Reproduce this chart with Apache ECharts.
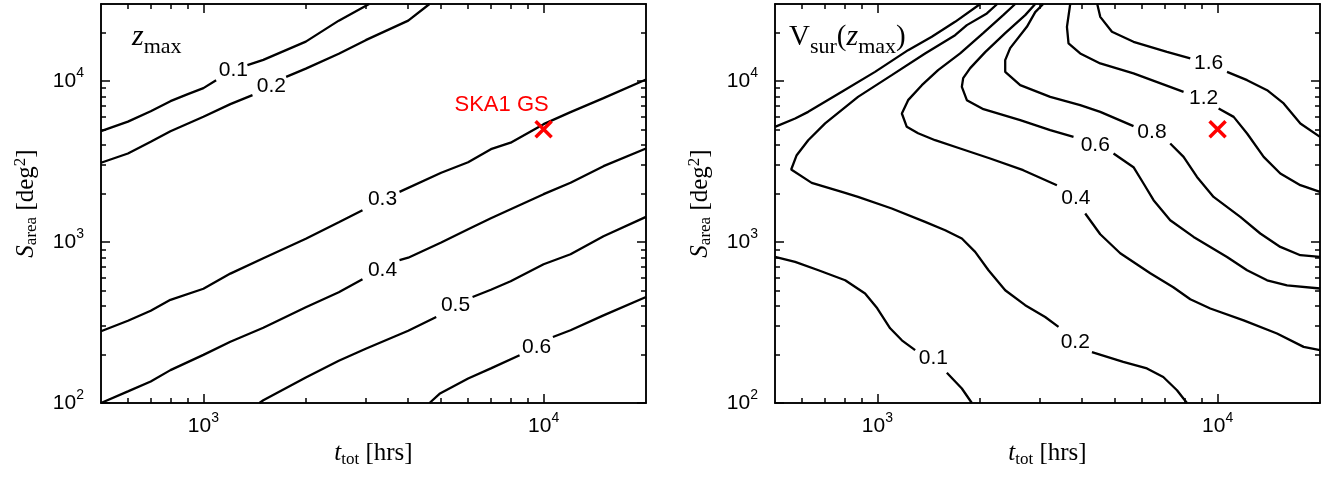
<!DOCTYPE html>
<html><head><meta charset="utf-8">
<script src="https://cdn.jsdelivr.net/npm/echarts@6/dist/echarts.min.js"></script>
<style>html,body{margin:0;padding:0;background:#fff}#c{width:1331px;height:478px}</style>
</head><body><div id="c"></div>
<script>
// ---------- tick values ----------
const xTicksMajor = [1000, 10000];
const xTicksMinor = [600, 700, 800, 900, 2000, 3000, 4000, 5000, 6000, 7000, 8000, 9000];
const yTicksMajor = [100, 1000, 10000];
const yTicksMinor = [200, 300, 400, 500, 600, 700, 800, 900, 2000, 3000, 4000, 5000, 6000, 7000, 8000, 9000, 20000];
const tRange = [500, 20000];
const sRange = [100, 30000];

// ---------- left panel: z_max contours [t_tot, S_area], split at label gaps ----------
const zmax_01 = [
  [[500,4870],[600,5580],[700,6480],[800,7480],[900,8270],[1000,9010],[1090,10100]],
  [[1347,12520],[1500,13500],[2000,17520],[2500,23650],[3070,30000]]
];
const zmax_02 = [
  [[500,3100],[600,3540],[700,4190],[800,4870],[1000,5990],[1200,7170],[1394,8150]],
  [[1751,10590],[2000,11910],[2500,14720],[3000,17890],[4000,23650],[4620,30000]]
];
const zmax_03 = [
  [[500,279],[600,324],[700,374],[800,437],[1000,512],[1200,636],[1500,792],[2000,1047],[2500,1326],[2935,1574]],
  [[3771,2045],[5000,2687],[6000,3126],[7000,3765],[8000,4133],[10000,5384],[12000,6391],[15000,7808],[20000,10200]]
];
const zmax_04 = [
  [[500,100],[600,118],[700,136],[800,160],[1000,199],[1200,240],[1500,293],[2000,393],[2500,487],[2935,587]],
  [[3771,770],[4000,798],[5000,992],[6000,1199],[7000,1404],[8000,1596],[10000,1979],[12000,2332],[15000,2953],[20000,3803]]
];
const zmax_05 = [
  [[1461,100],[1500,104],[2000,144],[2500,183],[3000,217],[4000,281],[4835,342]],
  [[6183,455],[7000,505],[8000,570],[10000,727],[12000,839],[15000,1085],[20000,1430]]
];
const zmax_06 = [
  [[4620,100],[4944,114],[6000,142],[7000,164],[8499,198]],
  [[10650,257],[12000,283],[15000,350],[20000,455]]
];
const zmaxLabels = [[1225,11660,'0.1'],[1585,9270,'0.2'],[3361,1841,'0.3'],[3361,667,'0.4'],[5510,405,'0.5'],[9537,222,'0.6']];

// ---------- right panel: V_sur(z_max) contours ----------
const vsur_01 = [
  [[500,5180],[573,5840],[626,6420],[786,8550],[984,11370],[1231,15510],[1445,18760],[1692,23250],[2005,30000]],
  [[500,807],[573,751],[671,667],[804,578],[920,478],[999,387],[1090,291],[1180,245],[1291,213]],
  [[1600,154],[1771,123],[1895,100]]
];
const vsur_02 = [
  [[2250,30000],[2098,26220],[1832,22180],[1692,19220],[1381,14800],[1102,10850],[877,7950],[702,5440],[626,4280],[579,3455],[558,2817],[641,2326],[786,2045],[877,1903],[1102,1613],[1381,1331],[1582,1182],[1771,1050],[1938,867],[2121,667],[2375,501],[2719,405],[3113,342],[3407,297]],
  [[4272,207],[5280,180],[6199,164],[6923,145],[7597,120],[8128,100]]
];
const vsur_04 = [
  [[2541,30000],[2343,25590],[2046,19790],[1751,14800],[1508,11660],[1351,9400],[1231,7590],[1180,6270],[1220,5180],[1317,4730],[1478,4280],[1751,3803],[2145,3296],[2683,2789],[3370,2250]],
  [[4082,1501],[4519,1116],[5174,851],[6340,639],[7409,523],[8312,441],[9517,386],[11930,326],[14950,270],[17900,223],[20000,213]]
];
const vsur_06 = [
  [[2910,30000],[2719,25590],[2375,19790],[2074,15080],[1874,11990],[1787,10390],[1771,9180],[1832,7590],[2050,6670],[2629,5700],[3221,4940],[3771,4490]],
  [[4944,3540],[5660,2911],[6058,2305],[6483,1816],[7257,1364],[8500,1074],[10660,807],[12210,667],[13980,578],[16000,538],[20000,514]]
];
const vsur_08 = [
  [[3072,30000],[2910,26710],[2750,21650],[2456,15960],[2375,13450],[2375,11370],[2629,9400],[3221,7950],[3946,7070],[4519,6420],[5660,5231]],
  [[7257,4086],[7943,3373],[8698,2533],[9732,1903],[11660,1430],[13350,1128],[15290,931],[17510,827],[20000,807]]
];
const vsur_12 = [
  [[3688,30000],[3607,21650],[3646,17080],[3946,14800],[4519,12820],[5660,11120],[7943,8550]],
  [[10070,6741],[11150,5975],[12210,4713],[13660,3373],[15290,2660],[17510,2250],[20000,2045]]
];
const vsur_16 = [
  [[4428,30000],[4519,24970],[4891,20160],[5660,17470],[7097,15140],[8312,13770]],
  [[10660,11370],[12210,10100],[13980,8754],[15640,7238],[17510,5440],[20000,4489]]
];
const vsurLabels = [[1461,189,'0.1'],[3815,239,'0.2'],[3833,1855,'0.4'],[4368,3986,'0.6'],[6413,4821,'0.8'],[9096,7776,'1.2'],[9409,12820,'1.6']];

// ---------- marker ----------
const ska1 = [10000, 5000];
const ska1Name = 'SKA1 GS';

// ---------- texts ----------
const SANS = 'Liberation Sans, Arial, sans-serif';
const SERIF = 'Liberation Serif, Times New Roman, serif';

const powRich = {
  b: {fontSize: 21, fontFamily: SANS, color: '#000', lineHeight: 30},
  s: {fontSize: 14, fontFamily: SANS, color: '#000', lineHeight: 14, verticalAlign: 'top'}
};
function powFmt(v) { const e = Math.round(Math.log10(v)); return '{b|10}{s|' + e + '}'; }

const nameRich = {
  i: {fontSize: 25, fontFamily: SERIF, fontStyle: 'italic', fontWeight: 'normal', color: '#000', lineHeight: 28},
  n: {fontSize: 25, fontFamily: SERIF, fontWeight: 'normal', color: '#000', lineHeight: 28},
  sub: {fontSize: 17, fontFamily: SERIF, fontWeight: 'normal', color: '#000', lineHeight: 17, verticalAlign: 'bottom'},
  sup: {fontSize: 17, fontFamily: SERIF, fontWeight: 'normal', color: '#000', lineHeight: 17, verticalAlign: 'top'}
};
const titleRich = {
  i: {fontSize: 30, fontFamily: SERIF, fontStyle: 'italic', fontWeight: 'normal', color: '#000', lineHeight: 34},
  n: {fontSize: 29, fontFamily: SERIF, fontWeight: 'normal', color: '#000', lineHeight: 34},
  sub: {fontSize: 22, fontFamily: SERIF, fontWeight: 'normal', color: '#000', lineHeight: 22, verticalAlign: 'bottom', padding: [0,0,-4,0]}
};

const grids = [
  {left: 101, top: 4, width: 545, height: 399},
  {left: 775, top: 4, width: 545, height: 399}
];

const BLK = {color: '#000', width: 1.5};
function xAx(g, pos, vals, len, labels, named) {
  return {
    gridIndex: g, type: 'log', logBase: 10, min: tRange[0], max: tRange[1], position: pos,
    axisLine: {show: true, onZero: false, lineStyle: BLK},
    axisTick: {show: true, inside: true, length: len, customValues: vals, lineStyle: BLK},
    axisLabel: labels ? {show: true, customValues: vals, formatter: powFmt, rich: powRich, margin: 8} : {show: false},
    splitLine: {show: false}, minorTick: {show: false},
    name: named ? '{i|t}{sub|tot}{n| [hrs]}' : '',
    nameLocation: 'middle', nameGap: 34,
    nameTextStyle: {fontWeight: 'normal', rich: nameRich}
  };
}
function yAx(g, pos, vals, len, labels, named) {
  return {
    gridIndex: g, type: 'log', logBase: 10, min: sRange[0], max: sRange[1], position: pos,
    axisLine: {show: true, onZero: false, lineStyle: BLK},
    axisTick: {show: true, inside: true, length: len, customValues: vals, lineStyle: BLK},
    axisLabel: labels ? {show: true, customValues: vals, formatter: powFmt, rich: powRich, margin: 17} : {show: false},
    splitLine: {show: false}, minorTick: {show: false},
    name: named ? '{i|S}{sub|area}{n| [deg}{sup|2}{n|]}' : '',
    nameLocation: 'middle', nameGap: 61, nameRotate: 90,
    nameTextStyle: {fontWeight: 'normal', rich: nameRich}
  };
}
const xAxes = [], yAxes = [];
[0, 1].forEach(g => {
  xAxes.push(xAx(g, 'bottom', xTicksMajor, 9, true, true));
  xAxes.push(xAx(g, 'top', xTicksMajor, 9, false, false));
  xAxes.push(xAx(g, 'bottom', xTicksMinor, 5, false, false));
  xAxes.push(xAx(g, 'top', xTicksMinor, 5, false, false));
  yAxes.push(yAx(g, 'left', yTicksMajor, 9, true, true));
  yAxes.push(yAx(g, 'right', yTicksMajor, 9, false, false));
  yAxes.push(yAx(g, 'left', yTicksMinor, 5, false, false));
  yAxes.push(yAx(g, 'right', yTicksMinor, 5, false, false));
});

const series = [];
function addContour(segs, axisIdx) {
  segs.forEach(seg => series.push({
    type: 'line', xAxisIndex: axisIdx, yAxisIndex: axisIdx, data: seg,
    showSymbol: false, symbol: 'none', silent: true, clip: true,
    lineStyle: {color: '#000', width: 2.3, opacity: 1}, animation: false
  }));
}
[zmax_01, zmax_02, zmax_03, zmax_04, zmax_05, zmax_06].forEach(s => addContour(s, 0));
[vsur_01, vsur_02, vsur_04, vsur_06, vsur_08, vsur_12, vsur_16].forEach(s => addContour(s, 4));

function addLabels(list, axisIdx) {
  series.push({
    type: 'scatter', xAxisIndex: axisIdx, yAxisIndex: axisIdx, symbolSize: 0, silent: true, animation: false,
    itemStyle: {color: '#000', opacity: 1},
    data: list.map(d => ({value: [d[0], d[1]], name: d[2]})),
    label: {show: true, position: 'inside', formatter: p => p.name, fontSize: 21, fontFamily: SANS,
      color: '#000', opacity: 1, textBorderWidth: 0, textBorderColor: 'transparent'}
  });
}
addLabels(zmaxLabels, 0);
addLabels(vsurLabels, 4);

const xPath = 'path://M0,0L10,10M10,0L0,10';
[0, 4].forEach((ai, k) => series.push({
  type: 'scatter', xAxisIndex: ai, yAxisIndex: ai, silent: true, animation: false, z: 5,
  symbol: xPath, symbolSize: 16,
  itemStyle: {color: 'rgba(0,0,0,0)', borderColor: '#ff0000', borderWidth: 3.5, opacity: 1},
  data: [{value: ska1, name: ska1Name}],
  label: k === 0 ? {show: true, position: 'inside', offset: [-42, -24], formatter: p => p.name,
    fontSize: 22, fontFamily: SANS, color: '#ff0000', opacity: 1, textBorderWidth: 0, textBorderColor: 'transparent'} : {show: false}
}));

const chart = echarts.init(document.getElementById('c'), null, {renderer: 'canvas'});
chart.setOption({
  backgroundColor: '#fff',
  animation: false,
  title: [
    {text: '{i|z}{sub|max}', left: 127, top: 15, textStyle: {fontWeight: 'normal', rich: titleRich}},
    {text: '{n|V}{sub|sur}{n|(}{i|z}{sub|max}{n|)}', left: 784, top: 15, textStyle: {fontWeight: 'normal', rich: titleRich}}
  ],
  grid: grids,
  xAxis: xAxes,
  yAxis: yAxes,
  series: series
});
</script>
</body></html>
